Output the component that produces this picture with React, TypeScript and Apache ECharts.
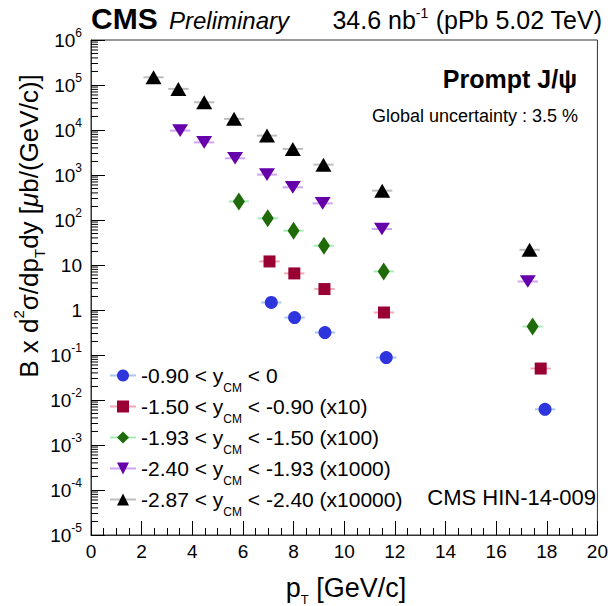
import React, { useEffect, useRef } from "react";
import * as echarts from "echarts";

// ---- data ----
const seriesNames = [
  "-0.90 < yCM < 0",
  "-1.50 < yCM < -0.90 (x10)",
  "-1.93 < yCM < -1.50 (x100)",
  "-2.40 < yCM < -1.93 (x1000)",
  "-2.87 < yCM < -2.40 (x10000)",
];
const legendPre = ["-0.90 < y", "-1.50 < y", "-1.93 < y", "-2.40 < y", "-2.87 < y"];
const legendPost = [" < 0", " < -0.90 (x10)", " < -1.50 (x100)", " < -1.93 (x1000)", " < -2.40 (x10000)"];

const ptBlue = [7.12, 8.04, 9.24, 11.66, 17.93];
const valBlue = [1.47, 0.68, 0.316, 0.0877, 0.0062];
const ptRed = [7.05, 8.03, 9.22, 11.57, 17.76];
const valRed = [12, 6.5, 2.92, 0.88, 0.05];
const ptGreen = [5.84, 6.98, 8.0, 9.2, 11.56, 17.44];
const valGreen = [259, 109, 57.8, 26.8, 7.2, 0.43];
const ptPurple = [3.52, 4.47, 5.69, 6.95, 7.97, 9.15, 11.49, 17.25];
const valPurple = [9700, 5300, 2350, 1020, 532, 234, 63, 4.3];
const ptBlack = [2.47, 3.45, 4.47, 5.65, 6.95, 7.97, 9.18, 11.5, 17.32];
const valBlack = [148000, 82000, 41300, 17700, 7500, 3800, 1700, 449, 21.8];

const ptGroups = [ptBlue, ptRed, ptGreen, ptPurple, ptBlack];
const valGroups = [valBlue, valRed, valGreen, valPurple, valBlack];

const markerColors = ["#2f35dc", "#990033", "#1f6b0a", "#6600aa", "#000000"];
const barColors = ["#a9c6f5", "#f2a9b4", "#a6ecb8", "#cfa6f5", "#bdbdbd"];
const symbols = [
  "circle",
  "rect",
  "diamond",
  "path://M0,0 L10,0 L5,9 Z",
  "triangle",
];
const symbolSizes: any[] = [13, 12, [12, 18], [16, 14], [16, 14]];
const barHalfWidth = 0.4;

const yDecadeMin = -5;
const yDecadeMax = 6;

const FONT = "'Liberation Sans', Arial, Helvetica, sans-serif";

export default function App() {
  const ref = useRef<HTMLDivElement>(null);

  useEffect(() => {
    if (!ref.current) return;
    const chart = echarts.init(ref.current, undefined, { renderer: "svg" });

    const minorTickVals: number[][] = [];
    for (let e = yDecadeMin; e < yDecadeMax; e++) {
      for (let k = 2; k <= 9; k++) minorTickVals.push([0, k * Math.pow(10, e)]);
    }

    const pairs = (i: number) => ptGroups[i].map((x, j) => [x, valGroups[i][j]]);

    const barSeries = ptGroups.map((_, i) => ({
      type: "custom",
      name: "bars" + i,
      silent: true,
      z: 2,
      data: pairs(i),
      renderItem: (params: any, api: any) => {
        const x = api.value(0);
        const y = api.value(1);
        const a = api.coord([x - barHalfWidth, y]);
        const b = api.coord([x + barHalfWidth, y]);
        return {
          type: "line",
          shape: { x1: a[0], y1: a[1], x2: b[0], y2: b[1] },
          style: { stroke: barColors[i], lineWidth: 2 },
        };
      },
    }));

    const pointSeries = ptGroups.map((_, i) => ({
      type: "line",
      name: seriesNames[i],
      z: 3,
      data: pairs(i),
      symbol: symbols[i],
      symbolSize: symbolSizes[i],
      showSymbol: true,
      symbolKeepAspect: true,
      lineStyle: { width: 0, opacity: 0, color: barColors[i] },
      itemStyle: { color: markerColors[i], opacity: 1 },
      emphasis: { disabled: true },
    }));

    const minorTickSeries = {
      type: "custom",
      name: "yminor",
      silent: true,
      z: 1,
      clip: false,
      data: minorTickVals,
      renderItem: (params: any, api: any) => {
        const p = api.coord([0, api.value(1)]);
        return {
          type: "line",
          shape: { x1: p[0], y1: p[1], x2: p[0] + 7, y2: p[1] },
          style: { stroke: "#000", lineWidth: 1 },
        };
      },
    };

    const option: any = {
      animation: false,
      backgroundColor: "#fff",
      textStyle: { fontFamily: FONT },
      grid: {
        left: 91,
        right: 10,
        top: 40,
        bottom: 71,
        show: true,
        borderColor: "#333",
        borderWidth: 1,
        containLabel: false,
      },
      xAxis: {
        type: "value",
        min: 0,
        max: 20,
        interval: 2,
        axisLine: { show: true, lineStyle: { color: "#333", width: 1 } },
        axisTick: { show: true, inside: true, length: 14, lineStyle: { color: "#000" } },
        minorTick: { show: true, splitNumber: 4, length: 7, lineStyle: { color: "#000" } },
        splitLine: { show: false },
        axisLabel: { fontSize: 19, color: "#000", fontFamily: FONT, margin: 7 },
      },
      yAxis: {
        type: "log",
        logBase: 10,
        min: 1e-5,
        max: 1e6,
        interval: 1,
        axisLine: { show: true, lineStyle: { color: "#333", width: 1 } },
        axisTick: { show: true, inside: true, length: 14, lineStyle: { color: "#000" } },
        minorTick: { show: false },
        splitLine: { show: false },
        axisLabel: {
          margin: 9,
          formatter: (v: number) => {
            const e = Math.round(Math.log10(v));
            if (e === 0) return "{b|1}";
            if (e === 1) return "{b|10}";
            return `{b|10}{s|${e}}`;
          },
          rich: {
            b: { fontSize: 19, color: "#000", fontFamily: FONT, lineHeight: 26 },
            s: { fontSize: 12, color: "#000", fontFamily: FONT, lineHeight: 12, verticalAlign: "top" },
          },
        },
      },
      legend: {
        show: true,
        orient: "vertical",
        left: 104,
        top: 360,
        itemWidth: 26,
        itemHeight: 15,
        itemGap: 2.5,
        selectedMode: false,
        data: seriesNames.map((n, i) => ({
          name: n,
          lineStyle: { color: barColors[i], width: 2, opacity: 1 },
          itemStyle: { color: markerColors[i] },
        })),
        formatter: (name: string) => {
          const i = seriesNames.indexOf(name);
          return `{a|${legendPre[i]}}{s|CM}{a|${legendPost[i]}}`;
        },
        textStyle: {
          rich: {
            a: { fontSize: 21, color: "#000", fontFamily: FONT, lineHeight: 36 },
            s: { fontSize: 12, color: "#000", fontFamily: FONT, lineHeight: 12, verticalAlign: "bottom" },
          },
        },
      },
      graphic: [
        {
          type: "text",
          x: 91,
          y: 18,
          style: { text: "CMS", fontSize: 30, fontWeight: "bold", fontFamily: FONT, fill: "#000", align: "left", verticalAlign: "middle" },
        },
        {
          type: "text",
          x: 169,
          y: 20,
          style: { text: "Preliminary", fontSize: 24, fontStyle: "italic", fontFamily: FONT, fill: "#000", align: "left", verticalAlign: "middle" },
        },
        {
          type: "text",
          x: 602,
          y: 20,
          style: {
            text: "{a|34.6 nb}{s|-1}{a| (pPb 5.02 TeV)}",
            align: "right",
            verticalAlign: "middle",
            rich: {
              a: { fontSize: 25, fontFamily: FONT, fill: "#000", lineHeight: 28 },
              s: { fontSize: 14, fontFamily: FONT, fill: "#000", lineHeight: 14, verticalAlign: "top" },
            },
          },
        },
        {
          type: "text",
          x: 577,
          y: 79,
          style: { text: "Prompt J/ψ", fontSize: 25, fontWeight: "bold", fontFamily: FONT, fill: "#000", align: "right", verticalAlign: "middle" },
        },
        {
          type: "text",
          x: 578,
          y: 116,
          style: { text: "Global uncertainty : 3.5 %", fontSize: 18, fontFamily: FONT, fill: "#000", align: "right", verticalAlign: "middle" },
        },
        {
          type: "text",
          x: 596,
          y: 497,
          style: { text: "CMS HIN-14-009", fontSize: 22, fontFamily: FONT, fill: "#000", align: "right", verticalAlign: "middle" },
        },
        {
          type: "text",
          x: 346,
          y: 588,
          style: {
            text: "{a|p}{b|T}{a| [GeV/c]}",
            align: "center",
            verticalAlign: "middle",
            rich: {
              a: { fontSize: 27, fontFamily: FONT, fill: "#000", lineHeight: 36 },
              b: { fontSize: 13, fontFamily: FONT, fill: "#000", lineHeight: 13, verticalAlign: "bottom" },
            },
          },
        },
        {
          type: "text",
          x: 29,
          y: 226,
          rotation: Math.PI / 2,
          style: {
            text: "{t|B x d}{p|2}{t|σ/dp}{d|T}{t|dy [}{i|μ}{t|b/(GeV/c)]}",
            align: "center",
            verticalAlign: "middle",
            rich: {
              t: { fontSize: 26, fontFamily: FONT, fill: "#000", lineHeight: 36 },
              i: { fontSize: 26, fontFamily: FONT, fontStyle: "italic", fill: "#000", lineHeight: 36 },
              p: { fontSize: 15, fontFamily: FONT, fill: "#000", lineHeight: 15, verticalAlign: "top" },
              d: { fontSize: 15, fontFamily: FONT, fill: "#000", lineHeight: 15, verticalAlign: "bottom" },
            },
          },
        },
      ],
      series: [minorTickSeries, ...barSeries, ...pointSeries],
    };

    chart.setOption(option);
    return () => chart.dispose();
  }, []);

  return (
    <div
      ref={ref}
      style={{ position: "fixed", left: 0, top: 0, width: 611, height: 606, background: "#fff" }}
    />
  );
}
